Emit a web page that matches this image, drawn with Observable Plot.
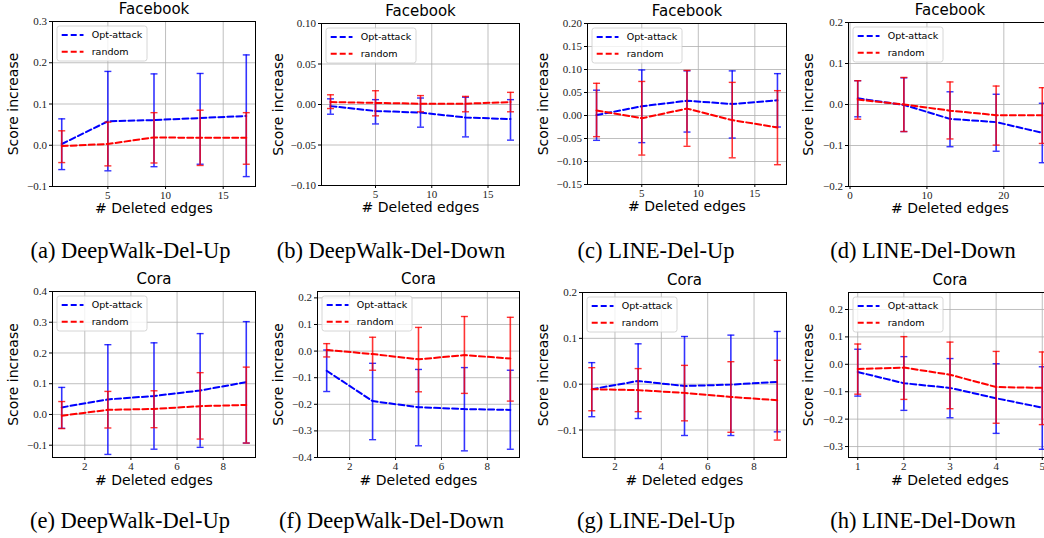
<!DOCTYPE html>
<html><head><meta charset="utf-8">
<script src="https://cdn.jsdelivr.net/npm/d3@7"></script>
<script src="https://cdn.jsdelivr.net/npm/@observablehq/plot@0.6"></script>
<style>
body{margin:0;background:#fff}
#fig{position:relative;width:1044px;height:538px;overflow:hidden;background:#fff}
#fig svg g[aria-label="x-axis tick label"], #fig svg g[aria-label="y-axis tick label"]{font-family:"Liberation Serif",serif !important}
.cap{position:absolute;font-family:"Liberation Serif";font-size:22.5px;line-height:1;white-space:nowrap;transform:translateX(-50%);color:#000}
</style></head><body><div id="fig"></div><script>
// ---------- data ----------
const seriesNames = ["Opt-attack", "random"];
const seriesColors = ["#0000ff", "#ff0000"];
const xLabel = "# Deleted edges";
const yLabel = "Score increase";

// (a) Facebook, DeepWalk-Del-Up
const x_a = [1, 5, 9, 13, 17];
const opt_a = [0.003, 0.058, 0.061, 0.066, 0.071];
const optLo_a = [-0.059, -0.062, -0.052, -0.046, -0.076];
const optHi_a = [0.064, 0.179, 0.173, 0.174, 0.219];
const rnd_a = [-0.002, 0.003, 0.019, 0.018, 0.018];
const rndLo_a = [-0.042, -0.050, -0.043, -0.049, -0.046];
const rndHi_a = [0.035, 0.056, 0.079, 0.085, 0.079];

// (b) Facebook, DeepWalk-Del-Down
const x_b = [1, 5, 9, 13, 17];
const opt_b = [-0.002, -0.008, -0.010, -0.016, -0.018];
const optLo_b = [-0.012, -0.024, -0.028, -0.040, -0.044];
const optHi_b = [0.007, 0.006, 0.008, 0.009, 0.006];
const rnd_b = [0.003, 0.002, 0.001, 0.001, 0.003];
const rndLo_b = [-0.005, -0.014, -0.009, -0.009, -0.009];
const rndHi_b = [0.012, 0.017, 0.011, 0.010, 0.015];

// (c) Facebook, LINE-Del-Up
const x_c = [1, 5, 9, 13, 17];
const opt_c = [0.001, 0.020, 0.032, 0.025, 0.033];
const optLo_c = [-0.054, -0.059, -0.036, -0.049, -0.025];
const optHi_c = [0.055, 0.099, 0.097, 0.097, 0.091];
const rnd_c = [0.011, -0.006, 0.015, -0.010, -0.026];
const rndLo_c = [-0.046, -0.086, -0.067, -0.092, -0.107];
const rndHi_c = [0.070, 0.074, 0.098, 0.072, 0.054];

// (d) Facebook, LINE-Del-Down
const x_d = [1, 7, 13, 19, 25];
const opt_d = [0.015, -0.001, -0.035, -0.043, -0.069];
const optLo_d = [-0.030, -0.066, -0.103, -0.114, -0.142];
const optHi_d = [0.058, 0.065, 0.031, 0.025, 0.003];
const rnd_d = [0.012, 0.000, -0.015, -0.026, -0.026];
const rndLo_d = [-0.036, -0.066, -0.084, -0.099, -0.095];
const rndHi_d = [0.058, 0.066, 0.055, 0.045, 0.041];

// (e) Cora, DeepWalk-Del-Up
const x_e = [1, 3, 5, 7, 9];
const opt_e = [0.023, 0.049, 0.060, 0.078, 0.105];
const optLo_e = [-0.045, -0.130, -0.113, -0.107, -0.093];
const optHi_e = [0.088, 0.227, 0.233, 0.263, 0.302];
const rnd_e = [-0.004, 0.015, 0.018, 0.027, 0.031];
const rndLo_e = [-0.046, -0.044, -0.043, -0.080, -0.093];
const rndHi_e = [0.042, 0.075, 0.077, 0.136, 0.154];

// (f) Cora, DeepWalk-Del-Down
const x_f = [1, 3, 5, 7, 9];
const opt_f = [-0.074, -0.188, -0.211, -0.218, -0.221];
const optLo_f = [-0.152, -0.333, -0.356, -0.375, -0.369];
const optHi_f = [0.004, -0.046, -0.069, -0.062, -0.072];
const rnd_f = [0.004, -0.011, -0.031, -0.015, -0.028];
const rndLo_f = [-0.022, -0.072, -0.153, -0.159, -0.188];
const rndHi_f = [0.028, 0.052, 0.089, 0.130, 0.127];

// (g) Cora, LINE-Del-Up
const x_g = [1, 3, 5, 7, 9];
const opt_g = [-0.011, 0.007, -0.004, -0.001, 0.005];
const optLo_g = [-0.071, -0.075, -0.112, -0.112, -0.104];
const optHi_g = [0.047, 0.088, 0.104, 0.107, 0.115];
const rnd_g = [-0.011, -0.013, -0.019, -0.028, -0.035];
const rndLo_g = [-0.058, -0.060, -0.080, -0.105, -0.122];
const rndHi_g = [0.036, 0.034, 0.041, 0.049, 0.052];

// (h) Cora, LINE-Del-Down
const x_h = [1, 2, 3, 4, 5];
const opt_h = [-0.028, -0.069, -0.086, -0.124, -0.158];
const optLo_h = [-0.116, -0.168, -0.195, -0.252, -0.310];
const optHi_h = [0.055, 0.028, 0.021, 0.002, -0.009];
const rnd_h = [-0.017, -0.012, -0.038, -0.083, -0.086];
const rndLo_h = [-0.109, -0.128, -0.162, -0.215, -0.220];
const rndHi_h = [0.074, 0.101, 0.081, 0.047, 0.045];

// tick labels
const yTicks_a = [-0.1, 0, 0.1, 0.2, 0.3];
const yTicks_b = [-0.1, -0.05, 0, 0.05, 0.1];
const yTicks_c = [-0.15, -0.1, -0.05, 0, 0.05, 0.1, 0.15, 0.2];
const yTicks_d = [-0.2, -0.1, 0, 0.1, 0.2];
const yTicks_e = [-0.1, 0, 0.1, 0.2, 0.3, 0.4];
const yTicks_f = [-0.4, -0.3, -0.2, -0.1, 0, 0.1, 0.2];
const yTicks_g = [-0.1, 0, 0.1, 0.2];
const yTicks_h = [-0.3, -0.2, -0.1, 0, 0.1, 0.2];
const xTicks_fb = [5, 10, 15];
const xTicks_d = [0, 10, 20];
const xTicks_cora = [2, 4, 6, 8];
const xTicks_h = [1, 2, 3, 4, 5];

const titles = ["Facebook", "Facebook", "Facebook", "Facebook", "Cora", "Cora", "Cora", "Cora"];
const captions = ["(a) DeepWalk-Del-Up", "(b) DeepWalk-Del-Down", "(c) LINE-Del-Up", "(d) LINE-Del-Down",
                  "(e) DeepWalk-Del-Up", "(f) DeepWalk-Del-Down", "(g) LINE-Del-Up", "(h) LINE-Del-Down"];

// ---------- panel configuration (scales + layout) ----------
const panels = [
  {x: x_a, o: [opt_a, optLo_a, optHi_a], r: [rnd_a, rndLo_a, rndHi_a], xd: [0.2, 17.8], yd: [-0.1, 0.3], xt: xTicks_fb, yt: yTicks_a, fmt: ".1f", frame: [52, 255, 21, 186], yl: 39, cap: 130.5},
  {x: x_b, o: [opt_b, optLo_b, optHi_b], r: [rnd_b, rndLo_b, rndHi_b], xd: [0.2, 17.8], yd: [-0.1, 0.1], xt: xTicks_fb, yt: yTicks_b, fmt: ".2f", frame: [321, 519, 23, 185], yl: 43, cap: 391},
  {x: x_c, o: [opt_c, optLo_c, optHi_c], r: [rnd_c, rndLo_c, rndHi_c], xd: [0.2, 17.8], yd: [-0.15, 0.2], xt: xTicks_fb, yt: yTicks_c, fmt: ".2f", frame: [587, 786, 23, 184], yl: 44, cap: 656},
  {x: x_d, o: [opt_d, optLo_d, optHi_d], r: [rnd_d, rndLo_d, rndHi_d], xd: [-0.2, 26.2], yd: [-0.2, 0.2], xt: xTicks_d, yt: yTicks_d, fmt: ".1f", frame: [848, 1051, 22, 186], yl: 40, cap: 923},
  {x: x_e, o: [opt_e, optLo_e, optHi_e], r: [rnd_e, rndLo_e, rndHi_e], xd: [0.6, 9.4], yd: [-0.14, 0.4], xt: xTicks_cora, yt: yTicks_e, fmt: ".1f", frame: [52, 255, 291, 457], yl: 39, cap: 130},
  {x: x_f, o: [opt_f, optLo_f, optHi_f], r: [rnd_f, rndLo_f, rndHi_f], xd: [0.6, 9.4], yd: [-0.4, 0.224], xt: xTicks_cora, yt: yTicks_f, fmt: ".1f", frame: [317, 519, 291, 457], yl: 39, cap: 391.5},
  {x: x_g, o: [opt_g, optLo_g, optHi_g], r: [rnd_g, rndLo_g, rndHi_g], xd: [0.6, 9.4], yd: [-0.16, 0.2], xt: xTicks_cora, yt: yTicks_g, fmt: ".1f", frame: [582, 786, 292, 457], yl: 39, cap: 656},
  {x: x_h, o: [opt_h, optLo_h, optHi_h], r: [rnd_h, rndLo_h, rndHi_h], xd: [0.8, 5.2], yd: [-0.34, 0.262], xt: xTicks_h, yt: yTicks_h, fmt: ".1f", frame: [848, 1051, 292, 457], yl: 40, cap: 923}
];

const capSymbol = {draw(ctx, size) { const h = Math.sqrt(size / Math.PI); ctx.moveTo(-h, 0); ctx.lineTo(h, 0); }};
const tickFont = "Liberation Serif";

function legendMark() {
  return (index, scales, values, dims) => {
    const g = d3.create("svg:g").attr("font-family", "DejaVu Sans").attr("font-size", 9.5).attr("text-anchor", "start");
    const x0 = dims.marginLeft + 5, y0 = dims.marginTop + 5;
    g.append("rect").attr("x", x0).attr("y", y0).attr("width", 90).attr("height", 35).attr("rx", 2.5)
      .attr("fill", "#fff").attr("fill-opacity", 0.8).attr("stroke", "#cccccc").attr("stroke-width", 0.8);
    seriesNames.forEach((s, i) => {
      const yy = y0 + 9 + i * 16.7;
      g.append("line").attr("x1", x0 + 4.7).attr("x2", x0 + 26.5).attr("y1", yy).attr("y2", yy)
        .attr("stroke", seriesColors[i]).attr("stroke-width", 2).attr("stroke-dasharray", "6,3");
      g.append("text").attr("x", x0 + 34.7).attr("y", yy).attr("dy", "0.35em")
        .attr("text-anchor", "start").attr("fill", "#000").text(s);
    });
    return g.node();
  };
}

const fig = document.getElementById("fig");
panels.forEach((p, k) => {
  const [fx0, fx1, fy0, fy1] = p.frame;
  const ml = 70, mr = 10, mt = 30, mb = 42;
  const rows = [];
  [p.o, p.r].forEach((arr, si) => {
    p.x.forEach((xv, i) => rows.push({x: xv, m: arr[0][i], lo: arr[1][i], hi: arr[2][i], s: seriesNames[si]}));
  });
  const series = seriesNames.map(s => rows.filter(d => d.s === s));
  const marks = [
    Plot.gridX(p.xt, {stroke: "#b0b0b0", strokeOpacity: 0.9, strokeWidth: 0.9}),
    Plot.gridY(p.yt, {stroke: "#b0b0b0", strokeOpacity: 0.9, strokeWidth: 0.9}),
    Plot.axisX(p.xt, {tickSize: 3, tickPadding: 1.5, tickFormat: d => String(d), fontSize: 11, fontFamily: tickFont, fill: "#222", stroke: "#000", label: null}),
    Plot.axisY(p.yt, {tickSize: 3, tickPadding: 2.5, tickFormat: d3.format(p.fmt), fontSize: 11, fontFamily: tickFont, fill: "#222", stroke: "#000", label: null})
  ];
  series.forEach((data, si) => {
    const c = seriesColors[si];
    marks.push(
      Plot.ruleX(data, {x: "x", y1: "lo", y2: "hi", stroke: c, strokeWidth: 1.6, strokeOpacity: 0.8}),
      Plot.dot(data, {x: "x", y: "hi", r: 3.5, symbol: capSymbol, fill: "none", stroke: c, strokeWidth: 1.4, strokeOpacity: 0.8}),
      Plot.dot(data, {x: "x", y: "lo", r: 3.5, symbol: capSymbol, fill: "none", stroke: c, strokeWidth: 1.4, strokeOpacity: 0.8}),
      Plot.line(data, {x: "x", y: "m", stroke: c, strokeWidth: 2, strokeDasharray: "6,3"})
    );
  });
  marks.push(
    Plot.frame({stroke: "#000", strokeWidth: 1}),
    Plot.text([titles[k]], {frameAnchor: "top", dy: -12, lineAnchor: "middle", textAnchor: "middle", fontSize: 15, fontFamily: "DejaVu Sans", fill: "#000"}),
    Plot.text([yLabel], {frameAnchor: "left", dx: -p.yl, rotate: -90, lineAnchor: "middle", textAnchor: "middle", fontSize: 14, fontFamily: "DejaVu Sans", fill: "#000"}),
    Plot.text([xLabel], {frameAnchor: "bottom", dy: k < 4 ? 22 : 23, lineAnchor: "middle", textAnchor: "middle", fontSize: 14, fontFamily: "DejaVu Sans", fill: "#000"}),
    legendMark()
  );
  const svg = Plot.plot({
    width: (fx1 - fx0) + ml + mr,
    height: (fy1 - fy0) + mt + mb,
    marginLeft: ml, marginRight: mr, marginTop: mt, marginBottom: mb,
    style: "font-family: 'Liberation Serif'; font-size: 11px; color: #111; background: transparent; overflow: visible;",
    x: {domain: p.xd},
    y: {domain: p.yd},
    marks
  });
  d3.select(svg).selectAll('g[aria-label="x-axis tick label"], g[aria-label="y-axis tick label"]')
    .attr("font-family", "Liberation Serif").style("font-family", "'Liberation Serif', serif");
  svg.style.position = "absolute";
  svg.style.left = (fx0 - ml) + "px";
  svg.style.top = (fy0 - mt) + "px";
  fig.appendChild(svg);

  const cap = document.createElement("div");
  cap.className = "cap";
  cap.textContent = captions[k];
  cap.style.left = p.cap + "px";
  cap.style.top = (k < 4 ? 240 : 510) + "px";
  fig.appendChild(cap);
});
</script></body></html>
